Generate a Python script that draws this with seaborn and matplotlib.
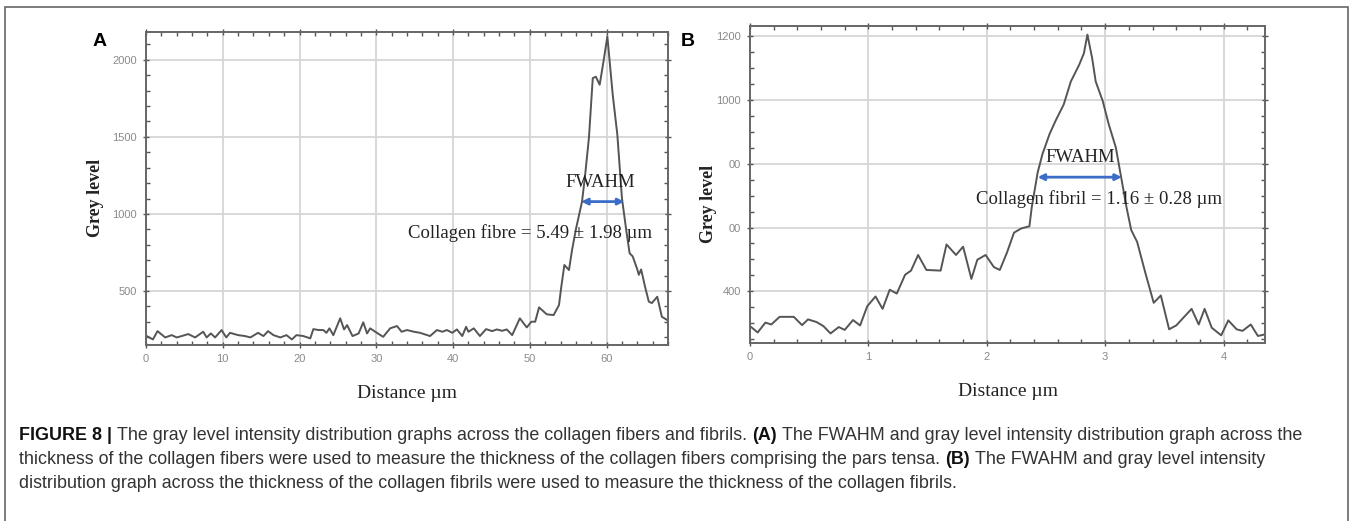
import matplotlib
matplotlib.use("Agg")
import matplotlib.pyplot as plt
from matplotlib.ticker import MultipleLocator, FixedLocator, FixedFormatter
from matplotlib.patches import Rectangle
import seaborn as sns

# (A) grey level profile across a collagen fibre
fibre_dist = [0.1, 0.9, 1.5, 2.5, 3.35, 4.0, 4.65, 5.5, 6.4, 7.45, 7.9, 8.45, 9.0, 9.85,
              10.45, 10.95, 12.0, 12.9, 13.6, 14.6, 15.3, 15.9, 16.6, 17.5, 18.3, 19.0,
              19.6, 20.5, 21.4, 21.8, 22.5, 23.1, 23.5, 23.9, 24.4, 25.3, 25.8, 26.2,
              26.9, 27.7, 28.3, 28.8, 29.2, 30.2, 30.9, 31.8, 32.7, 33.3, 34.0, 34.9,
              35.7, 37.0, 37.9, 38.6, 39.2, 39.9, 40.5, 41.2, 41.7, 42.0, 42.7, 43.5,
              44.3, 45.1, 45.7, 46.4, 47.0, 47.7, 48.7, 49.6, 50.2, 50.7, 51.2, 52.2,
              53.1, 53.8, 54.1, 54.5, 55.1, 55.5, 56.0, 56.8, 57.2, 57.7, 58.2, 58.6,
              59.1, 59.6, 60.1, 60.8, 61.4, 62.0, 62.6, 63.0, 63.4, 64.0, 64.2, 64.5,
              65.0, 65.5, 65.9, 66.6, 67.2, 67.9, 68.0]
fibre_grey = [208, 186, 240, 199, 214, 199, 208, 221, 199, 236, 199, 225, 199, 247,
              199, 229, 214, 208, 199, 229, 208, 240, 214, 199, 214, 186,
              214, 208, 193, 253, 247, 247, 229, 258, 214, 323, 251, 279,
              208, 225, 297, 225, 258, 225, 203, 258, 273, 236, 247, 236,
              229, 208, 247, 236, 247, 229, 251, 208, 268, 236, 258, 208,
              253, 240, 251, 242, 251, 214, 323, 264, 301, 301, 394, 349,
              344, 409, 528, 669, 636, 766, 900, 1080, 1250, 1494, 1881, 1890,
              1838, 1990, 2151, 1773, 1514, 1102, 880, 745, 725, 640, 605, 640,
              530, 431, 422, 463, 333, 312, 305]

# (B) grey level profile across a collagen fibril
fibril_dist = [0.0, 0.065, 0.13, 0.18, 0.25, 0.37, 0.44, 0.49, 0.56, 0.62, 0.68, 0.75,
               0.80, 0.87, 0.93, 0.99, 1.06, 1.12, 1.18, 1.24, 1.31, 1.36, 1.42, 1.49,
               1.61, 1.66, 1.74, 1.80, 1.87, 1.92, 1.99, 2.06, 2.11, 2.17, 2.23, 2.29,
               2.36, 2.38, 2.43, 2.47, 2.53, 2.58, 2.65, 2.71, 2.78, 2.82, 2.85, 2.89,
               2.92, 2.98, 3.03, 3.09, 3.13, 3.18, 3.22, 3.27, 3.34, 3.41, 3.47, 3.54,
               3.60, 3.73, 3.79, 3.84, 3.90, 3.98, 4.04, 4.11, 4.16, 4.23, 4.29, 4.35]
fibril_grey = [291, 271, 302, 296, 320, 320, 294, 312, 304, 291, 268, 288,
               279, 310, 293, 353, 384, 345, 405, 393, 452, 465, 514, 467,
               465, 547, 514, 540, 439, 499, 514, 476, 467, 521, 584, 597,
               604, 664, 773, 830, 893, 934, 986, 1058, 1110, 1146, 1205, 1131,
               1058, 996, 924, 851, 768, 664, 592, 555, 457, 364, 387, 281,
               293, 345, 296, 345, 286, 262, 309, 281, 276, 296, 260, 265]

fibre_yticks = [500, 1000, 1500, 2000]
fibre_ylabels = ["500", "1000", "1500", "2000"]
fibril_yticks = [400, 600, 800, 1000, 1200]
fibril_ylabels = ["400", "00", "00", "1000", "1200"]

W, H = 1355, 521
sns.set_theme(style="white")
plt.rcParams["font.family"] = ["Liberation Sans", "DejaVu Sans"]

fig = plt.figure(figsize=(W / 100, H / 100), dpi=100)
ax_a = fig.add_axes([146 / W, 1 - 345 / H, 522 / W, 313 / H])
ax_b = fig.add_axes([750 / W, 1 - 343 / H, 515 / W, 317 / H])

line_col = "#555555"
sns.lineplot(x=fibre_dist, y=fibre_grey, ax=ax_a, color=line_col, lw=1.4, errorbar=None)
sns.lineplot(x=fibril_dist, y=fibril_grey, ax=ax_b, color=line_col, lw=1.4, errorbar=None)

serif = ["Liberation Serif", "DejaVu Serif"]


def style_axes(ax, xlim, ylim, xmaj, xmin, ymin, yticks, ylabels):
    ax.set_xlim(*xlim)
    ax.set_ylim(*ylim)
    ax.xaxis.set_major_locator(MultipleLocator(xmaj))
    ax.xaxis.set_minor_locator(MultipleLocator(xmin))
    ax.yaxis.set_major_locator(FixedLocator(yticks))
    ax.yaxis.set_major_formatter(FixedFormatter(ylabels))
    ax.yaxis.set_minor_locator(MultipleLocator(ymin))
    ax.grid(True, which="major", color="#d6d6d6", lw=1.3)
    for s in ax.spines.values():
        s.set_color("#666666")
        s.set_linewidth(1.4)
    ax.tick_params(which="both", top=True, right=True, bottom=True, left=True,
                   color="#555555", labelsize=8, labelcolor="#8a8a8a")
    ax.tick_params(which="major", direction="inout", length=5, width=1.0, pad=4)
    ax.tick_params(which="minor", direction="in", length=3, width=1.0)
    ax.set_xlabel("Distance µm", family=serif, fontsize=14, color="#222222", labelpad=15)
    ax.set_ylabel("Grey level", family=serif, fontsize=13, fontweight="bold", color="#222222")


style_axes(ax_a, (0, 68), (150, 2180), 10, 2, 100, fibre_yticks, fibre_ylabels)
style_axes(ax_b, (0, 4.35), (238, 1232), 1, 0.2, 50, fibril_yticks, fibril_ylabels)
ax_a.yaxis.set_label_coords(-0.08, 0.47)
ax_b.yaxis.set_label_coords(-0.064, 0.44)

# FWAHM annotations
blue = "#3a6cc8"
arrow = dict(arrowstyle="<|-|>", color=blue, lw=2, mutation_scale=9, shrinkA=0, shrinkB=0)
ax_a.annotate("", xy=(62.3, 1080), xytext=(56.7, 1080), arrowprops=arrow)
ax_a.text(59.2, 1202, "FWAHM", family=serif, fontsize=13.5, color="#222222", ha="center", va="center")
ax_a.text(50.0, 877, "Collagen fibre = 5.49 ± 1.98 µm", family=serif, fontsize=13.5,
          color="#222222", ha="center", va="center")
ax_b.annotate("", xy=(3.14, 758), xytext=(2.43, 758), arrowprops=arrow)
ax_b.text(2.79, 820, "FWAHM", family=serif, fontsize=13.5, color="#222222", ha="center", va="center")
ax_b.text(2.95, 690, "Collagen fibril = 1.16 ± 0.28 µm", family=serif, fontsize=13.5,
          color="#222222", ha="center", va="center")

# panel letters
fig.text(100 / W, 1 - 42 / H, "A", fontsize=14, fontweight="bold", color="black", ha="center", va="center")
fig.text(688 / W, 1 - 42 / H, "B", fontsize=14, fontweight="bold", color="black", ha="center", va="center")

# outer frame
fig.add_artist(Rectangle((5 / W, -0.1), (1348 - 5) / W, 1.1 - 7 / H, transform=fig.transFigure,
                         fill=False, ec="#666666", lw=1.2, clip_on=False))

# caption with bold pieces
renderer = fig.canvas.get_renderer()
cap_size = 12.87


def text_width(s, weight):
    t = fig.text(0, 0, s, fontsize=cap_size, fontweight=weight)
    w = t.get_window_extent(renderer).width
    t.remove()
    return w


space_w = text_width("x x", "normal") - text_width("xx", "normal")

caption = [
    (435, [("FIGURE 8 |", "bold", "#111111"),
           ("The gray level intensity distribution graphs across the collagen fibers and fibrils.", "normal", "#333333"),
           ("(A)", "bold", "#111111"),
           ("The FWAHM and gray level intensity distribution graph across the", "normal", "#333333")]),
    (459, [("thickness of the collagen fibers were used to measure the thickness of the collagen fibers comprising the pars tensa.", "normal", "#333333"),
           ("(B)", "bold", "#111111"),
           ("The FWAHM and gray level intensity", "normal", "#333333")]),
    (483, [("distribution graph across the thickness of the collagen fibrils were used to measure the thickness of the collagen fibrils.", "normal", "#333333")]),
]
for ypix, parts in caption:
    xpix = 19
    for s, weight, col in parts:
        t = fig.text(xpix / W, 1 - ypix / H, s, fontsize=cap_size, fontweight=weight,
                     color=col, va="center", ha="left")
        xpix += t.get_window_extent(renderer).width + space_w

fig.savefig("out.png", dpi=100)
